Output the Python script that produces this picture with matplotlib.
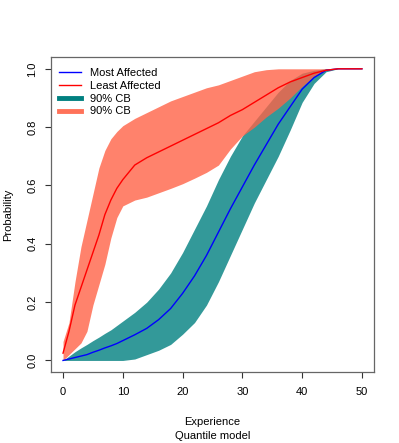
import matplotlib
matplotlib.use("Agg")
import matplotlib.pyplot as plt
from matplotlib.lines import Line2D

plt.rcParams['font.family'] = ['Liberation Sans', 'DejaVu Sans']

# experience values
x = [0, 1, 2, 3, 4, 5, 6, 7, 8, 9, 10, 12, 14, 16, 18, 20, 22, 24, 26, 28, 30,
     32, 34, 36, 38, 40, 42, 44, 46, 48, 50]

# most affected: median and 90% band
most_mid = [0.0, 0.005, 0.01, 0.015, 0.02, 0.028, 0.035, 0.043, 0.05, 0.058, 0.068,
            0.088, 0.11, 0.14, 0.178, 0.23, 0.29, 0.36, 0.44, 0.52, 0.595,
            0.67, 0.74, 0.81, 0.87, 0.93, 0.97, 0.995, 1.0, 1.0, 1.0]
most_lo = [0.0, 0.0, 0.0, 0.0, 0.0, 0.0, 0.0, 0.0, 0.0, 0.0, 0.0,
           0.005, 0.02, 0.035, 0.055, 0.09, 0.13, 0.19, 0.27, 0.36, 0.45,
           0.54, 0.62, 0.70, 0.79, 0.885, 0.95, 0.99, 1.0, 1.0, 1.0]
most_hi = [0.0, 0.015, 0.03, 0.043, 0.055, 0.068, 0.08, 0.093, 0.105, 0.12, 0.135,
           0.165, 0.20, 0.245, 0.30, 0.37, 0.45, 0.53, 0.62, 0.70, 0.77,
           0.82, 0.87, 0.92, 0.96, 0.985, 0.995, 1.0, 1.0, 1.0, 1.0]

# least affected: median and 90% band
least_mid = [0.025, 0.10, 0.19, 0.25, 0.31, 0.37, 0.43, 0.50, 0.55, 0.59, 0.62,
             0.67, 0.695, 0.715, 0.735, 0.755, 0.775, 0.795, 0.815, 0.84, 0.86,
             0.885, 0.91, 0.935, 0.955, 0.97, 0.985, 0.995, 1.0, 1.0, 1.0]
least_lo = [0.0, 0.02, 0.04, 0.06, 0.10, 0.19, 0.26, 0.33, 0.42, 0.49, 0.53,
            0.55, 0.56, 0.575, 0.59, 0.606, 0.625, 0.645, 0.67, 0.725, 0.77,
            0.80, 0.835, 0.865, 0.90, 0.94, 0.975, 0.995, 1.0, 1.0, 1.0]
least_hi = [0.065, 0.13, 0.27, 0.39, 0.48, 0.57, 0.66, 0.72, 0.76, 0.785, 0.805,
            0.83, 0.85, 0.87, 0.89, 0.905, 0.92, 0.935, 0.945, 0.96, 0.975,
            0.99, 0.997, 1.0, 1.0, 1.0, 1.0, 1.0, 1.0, 1.0, 1.0]

fig = plt.figure(figsize=(3.99, 4.43), dpi=100)
ax = fig.add_axes([0.128, 0.160, 0.809, 0.711])

ax.fill_between(x, most_lo, most_hi, color='#339999', lw=0)
ax.fill_between(x, least_lo, least_hi, color='tomato', alpha=0.8, lw=0)
ax.plot(x, most_mid, color='blue', lw=1)
ax.plot(x, least_mid, color='red', lw=1)

ax.set_xlim(-2, 52)
ax.set_ylim(-0.04, 1.04)
ax.set_xticks([0, 10, 20, 30, 40, 50])
ax.set_yticks([0.0, 0.2, 0.4, 0.6, 0.8, 1.0])
ax.set_yticklabels(['0.0', '0.2', '0.4', '0.6', '0.8', '1.0'], rotation=90, va='center')
ax.tick_params(direction='out', length=4, width=0.8, labelsize=8, color='#333333')
ax.tick_params(axis='x', pad=7)
ax.tick_params(axis='y', pad=6)
for s in ax.spines.values():
    s.set_color('#666666')
    s.set_linewidth(0.9)

ax.set_xlabel('Experience\nQuantile model', fontsize=8, labelpad=14, linespacing=1.5)
ax.set_ylabel('Probability', fontsize=8, labelpad=10)

handles = [Line2D([], [], color='blue', lw=1),
           Line2D([], [], color='red', lw=1),
           Line2D([], [], color='teal', lw=3.5),
           Line2D([], [], color='tomato', lw=3.5, alpha=0.9)]
labels = ['Most Affected', 'Least Affected', '90% CB', '90% CB']
ax.legend(handles, labels, loc='upper left', bbox_to_anchor=(0.0, 0.99),
          frameon=False, fontsize=8, handlelength=2.0, handletextpad=0.8,
          labelspacing=0.25, borderaxespad=0.3)

fig.savefig('out.png', dpi=100)
